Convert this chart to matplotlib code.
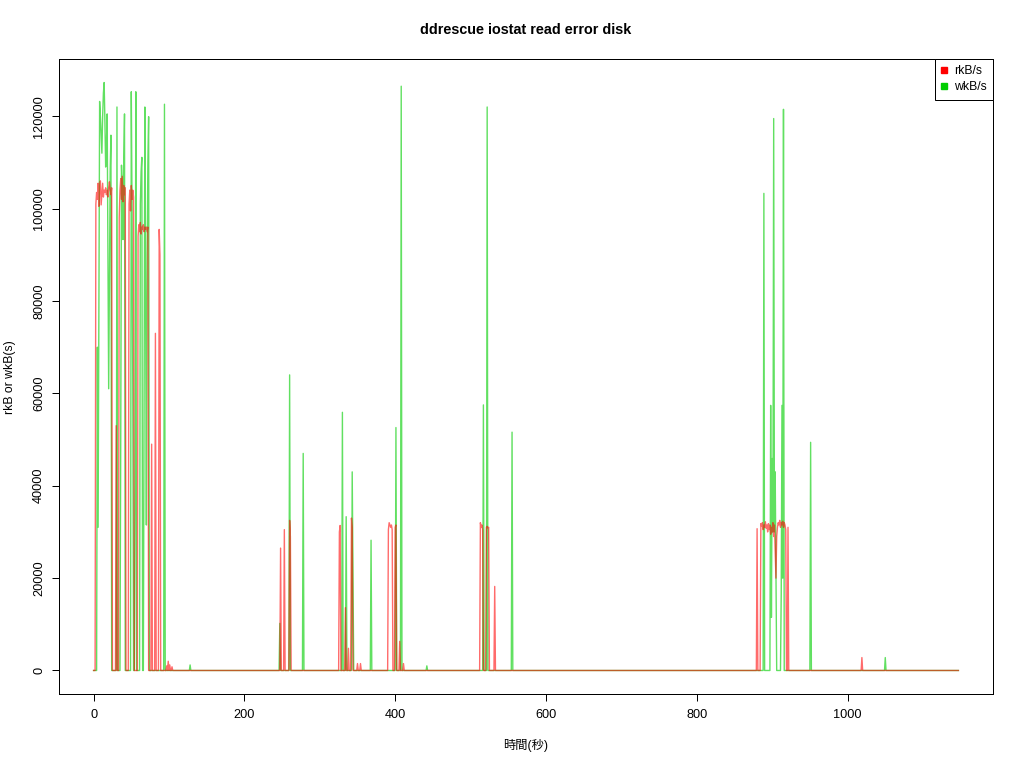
import numpy as np
import matplotlib
matplotlib.use("Agg")
import matplotlib.pyplot as plt
from matplotlib.lines import Line2D

plt.rcParams['font.family'] = ['Liberation Sans', 'Noto Sans CJK JP', 'DejaVu Sans']

# one iostat sample per second, zero except where listed
duration = 1148

# rkB/s: seconds with non-zero reads and the values
rk_t = ([*range(3, 25)] + [30] + [*range(34, 43)] + [*range(47, 54)] + [*range(59, 73)]
        + [77, 82, 87, 88, 97, 99, 101, 104]
        + [248, 253, 260, 261, 326, 327, 334, 338, 342, 343, 350, 354]
        + [*range(391, 397)] + [400, 401, 406, 411]
        + [*range(513, 517)] + [*range(521, 525)] + [532]
        + [880] + [*range(885, 919)] + [921, 1019])
rk_v = ([101000, 103500, 102000, 105500, 100500, 104500, 106000, 100800, 103000, 105500, 102500,
         104000, 103500, 104500, 103000, 104000, 102500, 104500, 105800, 104000, 103000, 104500]
        + [53000]
        + [98000, 104000, 106500, 102000, 107000, 101500, 105000, 103000, 104500]
        + [101000, 104000, 99500, 105000, 102000, 104000, 102500]
        + [94000, 96500, 95000, 97000, 94500, 96000, 95500, 96500, 95000, 96000, 95500, 96000, 95000, 96000]
        + [49000, 73000, 95500, 90000, 1000, 2000, 1200, 800]
        + [26500, 30500, 32500, 29000, 30000, 31400, 13600, 4800, 33000, 31000, 1500, 1500]
        + [30500, 32000, 31500, 31000, 31500, 30500] + [31000, 31500, 6300, 1500]
        + [32000, 31000, 31500, 30500] + [31000, 31200, 30800, 31000] + [18200]
        + [30700]
        + [31800, 31200, 32000, 30500, 31500, 31000, 32200, 30800, 31500, 30000, 31800, 30500,
           31500, 29500, 31000, 30000, 32000, 29000, 31500, 26000, 20000, 29000, 31000, 32000,
           31500, 32500, 31000, 32000, 31500, 32300, 31000, 32000, 31500, 30500]
        + [31000, 2800])

# wkB/s
wk_t = ([*range(5, 24)] + [31] + [*range(36, 42)] + [50, 51, 52, 55, 56] + [62, 63, 64]
        + [*range(67, 74)] + [94, 128]
        + [247, 260, 278, 330, 335, 343, 344, 368, 401, 408, 442, 517, 522, 555]
        + [889] + [*range(898, 906)] + [912, 913, 914, 915, 951, 1050])
wk_v = ([70000, 31000, 80000, 123200, 120000, 116000, 112000, 120000, 125000, 127300,
         119000, 109000, 114000, 120500, 90000, 61000, 85000, 108000, 115900]
        + [122000]
        + [50000, 109400, 104000, 93300, 110000, 120500]
        + [125300, 100000, 60100, 40000, 125300] + [101000, 108000, 111100]
        + [60000, 122000, 80000, 31500, 90000, 110000, 119900]
        + [122600, 1200]
        + [10200, 64000, 47000, 55900, 33300, 43000, 20000, 28200, 52600, 126500, 1000,
           57500, 122000, 51600]
        + [103300] + [57400, 11500, 45900, 30000, 119500, 30000, 43000, 20000]
        + [16700, 57400, 20000, 121500, 49400, 2800])

seconds = np.arange(duration)
rkb = np.zeros(duration)
rkb[rk_t] = rk_v
wkb = np.zeros(duration)
wkb[wk_t] = wk_v

red = "#FF0000"
green = "#00CD00"

fig = plt.figure(figsize=(10.24, 7.68), dpi=100)
ax = fig.add_axes([59 / 1024, 1 - 694 / 768, (993 - 59) / 1024, (694 - 59) / 768])

ax.plot(seconds, wkb, color=green, lw=1.0, alpha=0.62, zorder=2)
ax.plot(seconds, rkb, color=red, lw=1.0, alpha=0.58, zorder=3)
ax.margins(x=0.04, y=0.04)

ax.set_xticks([0, 200, 400, 600, 800, 1000])
ax.set_yticks([0, 20000, 40000, 60000, 80000, 100000, 120000])
ax.tick_params(length=5, width=0.72, labelsize=9.2, color='black')
ax.tick_params(axis='x', pad=5.5)
ax.tick_params(axis='y', pad=5, labelrotation=90)
for lab in ax.get_yticklabels():
    lab.set_verticalalignment('center')
for s in ax.spines.values():
    s.set_linewidth(0.72)
    s.set_color('black')

fig.text(526 / 1024, 1 - 30 / 768, "ddrescue iostat read error disk",
         ha='center', va='center', fontsize=10.4, fontweight='bold')
fig.text(526 / 1024, 1 - 745 / 768, "時間(秒)", ha='center', va='center', fontsize=8.8)
fig.text(10 / 1024, 1 - 377 / 768, "rkB or wkB(s)", ha='center', va='center',
         rotation=90, fontsize=8.8)

handles = [Line2D([], [], marker='s', color=red, linestyle='none', markersize=3.8),
           Line2D([], [], marker='s', color=green, linestyle='none', markersize=3.8)]
leg = ax.legend(handles, ["rkB/s", "wkB/s"], loc='upper right', borderaxespad=0,
                fancybox=False, framealpha=1, edgecolor='black', fontsize=8.8,
                handlelength=0.6, handletextpad=0.5, borderpad=0.5, labelspacing=0.35)
leg.get_frame().set_linewidth(0.72)

fig.savefig("out.png", dpi=100)
